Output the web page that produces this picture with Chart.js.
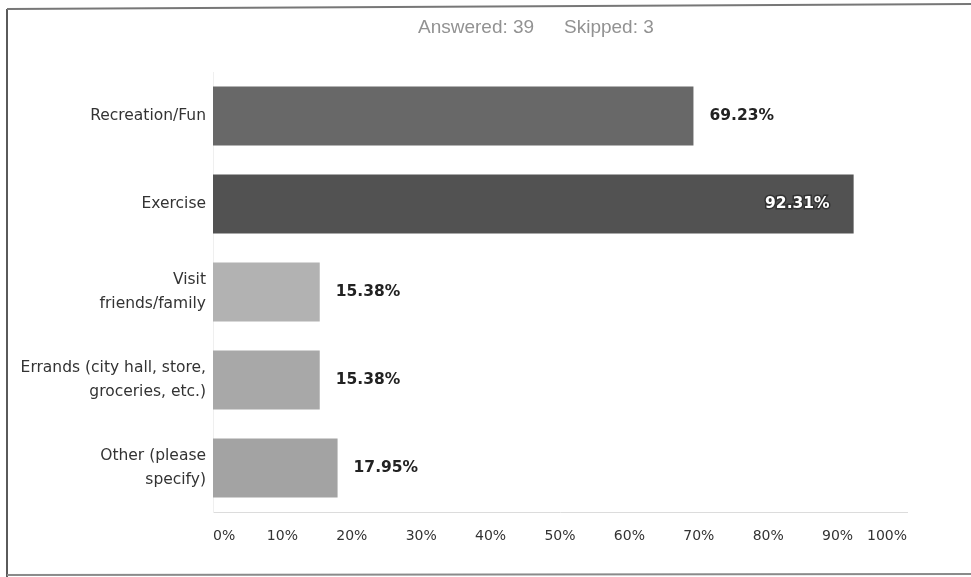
<!DOCTYPE html>
<html>
<head>
<meta charset="utf-8">
<script src="https://cdn.jsdelivr.net/npm/chart.js@4/dist/chart.umd.min.js"></script>
<style>
html,body{margin:0;padding:0;background:#fff;}
#wrap{position:relative;width:971px;height:577px;}
canvas{display:block;}
</style>
</head>
<body>
<div id="wrap"><canvas id="c" width="971" height="577"></canvas></div>
<script>
const categories = [
  "Recreation/Fun",
  "Exercise",
  ["Visit", "friends/family"],
  ["Errands (city hall, store,", "groceries, etc.)"],
  ["Other (please", "specify)"]
];
const percentValues = [69.23, 92.31, 15.38, 15.38, 17.95];
const valueLabels = ["69.23%", "92.31%", "15.38%", "15.38%", "17.95%"];
const xTickLabels = ["0%", "10%", "20%", "30%", "40%", "50%", "60%", "70%", "80%", "90%", "100%"];
const answeredText = "Answered: 39";
const skippedText = "Skipped: 3";
const barColors = ["#686868", "#525252", "#b2b2b2", "#a8a8a8", "#a3a3a3"];

const framePlugin = {
  id: 'frame',
  beforeDraw(chart) {
    const ctx = chart.ctx;
    ctx.save();
    ctx.fillStyle = '#fff';
    ctx.fillRect(0, 0, chart.width, chart.height);
    ctx.strokeStyle = '#5a5a5a';
    ctx.lineWidth = 2;
    ctx.beginPath();
    ctx.moveTo(7, 577); ctx.lineTo(7, 9);
    ctx.stroke();
    ctx.strokeStyle = '#777';
    ctx.beginPath();
    ctx.moveTo(7, 9); ctx.lineTo(971, 4);
    ctx.stroke();
    ctx.strokeStyle = '#8a8a8a';
    ctx.beginPath();
    ctx.moveTo(7, 575); ctx.lineTo(971, 574);
    ctx.stroke();
    // title
    ctx.font = '19px "Liberation Sans Narrow", "Liberation Sans", sans-serif';
    ctx.fillStyle = '#929292';
    ctx.textBaseline = 'middle';
    ctx.textAlign = 'left';
    ctx.fillText(answeredText, 418, 28);
    ctx.fillText(skippedText, 564, 28);
    ctx.restore();
  },
  afterDatasetsDraw(chart) {
    const ctx = chart.ctx;
    const meta = chart.getDatasetMeta(0);
    ctx.save();
    ctx.font = 'bold 15.5px "DejaVu Sans", sans-serif';
    ctx.textBaseline = 'middle';
    meta.data.forEach((bar, i) => {
      const txt = valueLabels[i];
      if (percentValues[i] > 85) {
        ctx.textAlign = 'right';
        ctx.lineWidth = 3;
        ctx.strokeStyle = '#333';
        ctx.strokeText(txt, bar.x - 24, bar.y);
        ctx.fillStyle = '#fff';
        ctx.fillText(txt, bar.x - 24, bar.y);
      } else {
        ctx.textAlign = 'left';
        ctx.fillStyle = '#222';
        ctx.fillText(txt, bar.x + 16, bar.y);
      }
    });
    ctx.restore();
  }
};

new Chart(document.getElementById('c'), {
  type: 'bar',
  data: {
    labels: categories,
    datasets: [{
      data: percentValues,
      backgroundColor: barColors,
      borderWidth: 0,
      categoryPercentage: 1.0,
      barPercentage: 0.67
    }]
  },
  options: {
    indexAxis: 'y',
    responsive: false,
    animation: false,
    devicePixelRatio: 1,
    layout: { padding: { top: 72, right: 64, left: 0, bottom: 0 } },
    plugins: { legend: { display: false }, tooltip: { enabled: false }, title: { display: false } },
    scales: {
      x: {
        min: 0, max: 100,
        ticks: {
          stepSize: 10,
          padding: 16,
          align: 'inner',
          color: '#333',
          font: { family: '"DejaVu Sans", sans-serif', size: 14 },
          maxRotation: 0,
          autoSkip: false,
          callback: (v, i) => xTickLabels[i]
        },
        grid: { display: false, drawTicks: false },
        border: { display: true, color: '#dcdcdc', width: 1 },
        afterFit(scale) { scale.height = 65; }
      },
      y: {
        ticks: {
          padding: 7,
          color: '#333',
          font: { family: '"DejaVu Sans", sans-serif', size: 15.5, lineHeight: 1.55 },
        },
        grid: { display: false, drawTicks: false },
        border: { display: true, color: '#efefef', width: 1 },
        afterFit(scale) { scale.width = 213; }
      }
    }
  },
  plugins: [framePlugin]
});
</script>
</body>
</html>
